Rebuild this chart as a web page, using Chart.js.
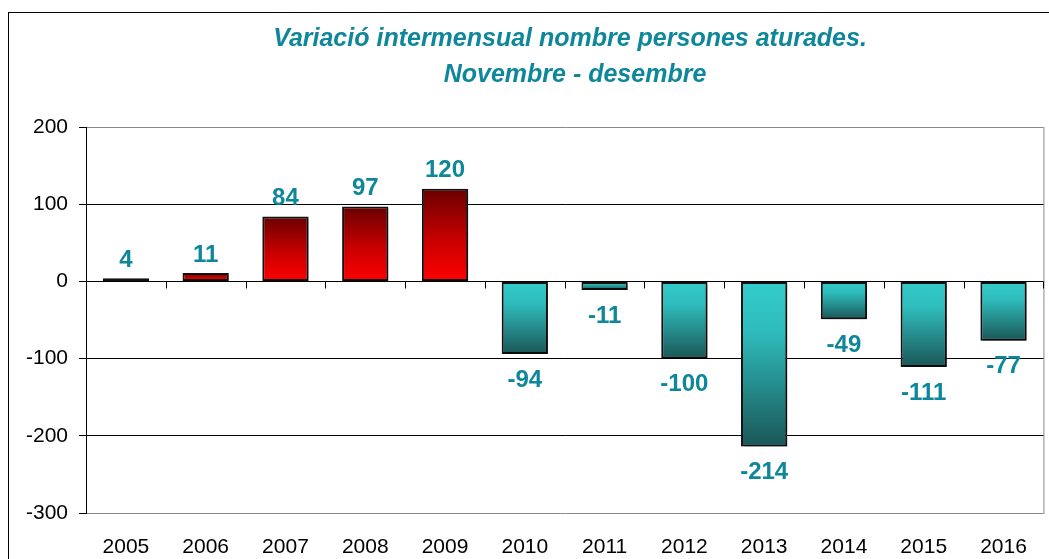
<!DOCTYPE html>
<html>
<head>
<meta charset="utf-8">
<script src="https://cdn.jsdelivr.net/npm/chart.js@4"></script>
<style>
  body { margin: 0; background: #fff; }
  canvas { display: block; }
</style>
</head>
<body>
<canvas id="myChart" width="1049" height="559"></canvas>
<script>
// chart data
const years = ["2005", "2006", "2007", "2008", "2009", "2010", "2011", "2012", "2013", "2014", "2015", "2016"];
const variation = [4, 11, 84, 97, 120, -94, -11, -100, -214, -49, -111, -77];
const titleLines = ["Variació intermensual nombre persones aturades.", "Novembre - desembre"];
const yMin = -300;
const yMax = 200;
const yStep = 100;

const tealText = "#0e879a";
const fontName = "'Liberation Sans', Arial, sans-serif";

// gradient for each bar, from its end to the zero line
function barGradient(context){
    const chart = context.chart;
    if(!chart.chartArea) return null;
    const v = context.raw;
    const yScale = chart.scales.y;
    const top = yScale.getPixelForValue(Math.max(v, 0));
    const bot = yScale.getPixelForValue(Math.min(v, 0));
    const g = chart.ctx.createLinearGradient(0, top, 0, bot === top ? top + 1 : bot);
    if(v >= 0){
        g.addColorStop(0, "#6a0000");
        g.addColorStop(0.55, "#c80000");
        g.addColorStop(1, "#ff0000");
    }else{
        g.addColorStop(0, "#33cccc");
        g.addColorStop(0.3, "#2fbcbc");
        g.addColorStop(1, "#1a5656");
    }
    return g;
}

// frame, title, axis ticks on the zero line and value labels
const decorations = {
    id: "decorations",
    beforeDraw(chart){
        const ctx = chart.ctx;
        const a = chart.chartArea;
        ctx.save();
        ctx.fillStyle = "#fff";
        ctx.fillRect(0, 0, chart.width, chart.height);
        // outer frame
        ctx.strokeStyle = "#000";
        ctx.lineWidth = 1;
        ctx.strokeRect(8.5, 12.5, 1100, 600);
        // plot area frame (right side)
        ctx.strokeStyle = "#8a8a8a";
        ctx.beginPath();
        ctx.moveTo(a.right + 0.5, a.top);
        ctx.lineTo(a.right + 0.5, a.bottom + 1);
        ctx.stroke();
        // title
        ctx.fillStyle = tealText;
        ctx.font = "italic bold 25px " + fontName;
        ctx.textAlign = "center";
        ctx.textBaseline = "alphabetic";
        ctx.fillText(titleLines[0], 570, 46);
        ctx.fillText(titleLines[1], 575, 82);
        ctx.restore();
    },
    beforeDatasetsDraw(chart){
        const ctx = chart.ctx;
        ctx.save();
        ctx.shadowColor = "rgba(0,0,0,0.35)";
        ctx.shadowOffsetX = 2;
        ctx.shadowOffsetY = 2;
        ctx.shadowBlur = 2;
    },
    afterDatasetsDraw(chart){
        const ctx = chart.ctx;
        ctx.restore();
        const xScale = chart.scales.x;
        const yScale = chart.scales.y;
        const zero = Math.round(yScale.getPixelForValue(0)) + 0.5;
        ctx.save();
        // small tick marks between categories on the zero line
        ctx.strokeStyle = "#000";
        ctx.lineWidth = 1;
        const half = (xScale.getPixelForValue(1) - xScale.getPixelForValue(0)) / 2;
        ctx.beginPath();
        for(let i = 0; i < years.length; i++){
            const x = Math.round(xScale.getPixelForValue(i) + half) + 0.5;
            ctx.moveTo(x, zero);
            ctx.lineTo(x, zero + 7);
        }
        ctx.stroke();
        // value labels
        ctx.fillStyle = tealText;
        ctx.font = "bold 24px " + fontName;
        ctx.textAlign = "center";
        ctx.textBaseline = "middle";
        const meta = chart.getDatasetMeta(0);
        meta.data.forEach((bar, i) => {
            const v = variation[i];
            const y = v >= 0 ? bar.y - 18 : bar.y + 26;
            ctx.fillText(String(v), bar.x, y);
        });
        ctx.restore();
    }
};

const ctx = document.getElementById("myChart").getContext("2d");
const myChart = new Chart(ctx, {
    type: "bar",
    data: {
        labels: years,
        datasets: [{
            data: variation,
            backgroundColor: barGradient,
            borderColor: "#111",
            borderWidth: 2,
            borderSkipped: false,
            categoryPercentage: 1,
            barPercentage: 0.58
        }]
    },
    options: {
        responsive: false,
        animation: false,
        layout: {
            padding: { top: 127, right: 3, left: 0, bottom: 0 }
        },
        plugins: {
            legend: { display: false },
            title: { display: false },
            tooltip: { enabled: false }
        },
        scales: {
            x: {
                afterFit(scale){ scale.height = 46; },
                grid: { display: false, drawTicks: false },
                border: { display: false },
                ticks: {
                    color: "#000",
                    padding: 22,
                    maxRotation: 0,
                    font: { family: fontName, size: 21 }
                }
            },
            y: {
                min: yMin,
                max: yMax,
                afterFit(scale){ scale.width = 86; },
                afterBuildTicks(scale){
                    const t = [];
                    for(let v = yMin; v <= yMax; v += yStep) t.push({ value: v });
                    scale.ticks = t;
                },
                grid: {
                    color: (c) => (c.tick && (c.tick.value === yMin || c.tick.value === yMax)) ? "#8a8a8a" : "#000",
                    tickColor: "#000",
                    tickLength: 7,
                    lineWidth: 1
                },
                border: { display: true, color: "#000", width: 1 },
                ticks: {
                    color: "#000",
                    padding: 11,
                    font: { family: fontName, size: 21 }
                }
            }
        }
    },
    plugins: [decorations]
});
</script>
</body>
</html>
